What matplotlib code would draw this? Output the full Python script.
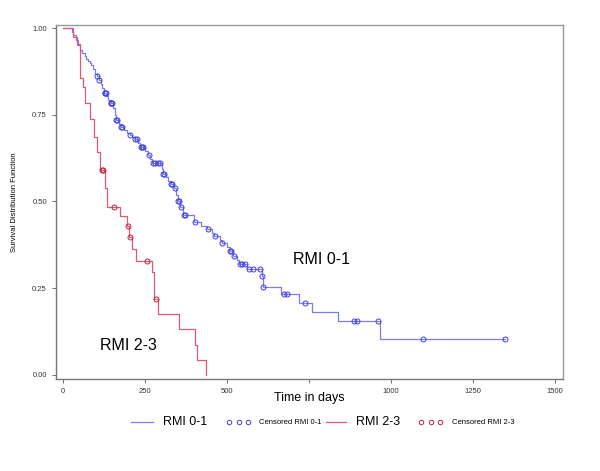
import numpy as np
import matplotlib.pyplot as plt
from matplotlib.lines import Line2D

plt.rcParams['font.family'] = ['Liberation Sans', 'DejaVu Sans']

# RMI 0-1 : event times (days) and survival after each step
t01 = [27, 32, 40, 47, 52, 57, 67, 72, 77, 82, 87, 92, 98, 103, 109, 115, 120, 126,
       133, 139, 146, 152, 158, 163, 172, 178, 185, 196, 204, 212, 220, 228, 236, 250,
       258, 266, 272, 303, 306, 315, 322, 330, 338, 345, 350, 357, 366, 400, 420, 440,
       455, 462, 478, 484, 500, 510, 519, 530, 538, 562, 606, 611, 666, 720, 758, 840, 966]
s01 = [0.99, 0.98, 0.967, 0.955, 0.937, 0.927, 0.919, 0.912, 0.906, 0.899, 0.893, 0.881,
       0.869, 0.862, 0.85, 0.838, 0.826, 0.814, 0.803, 0.793, 0.784, 0.77, 0.75, 0.735,
       0.723, 0.716, 0.705, 0.697, 0.692, 0.685, 0.68, 0.668, 0.657, 0.645, 0.634, 0.622,
       0.612, 0.595, 0.579, 0.57, 0.56, 0.55, 0.539, 0.52, 0.5, 0.485, 0.461, 0.442, 0.43,
       0.42, 0.41, 0.399, 0.39, 0.379, 0.368, 0.357, 0.344, 0.33, 0.319, 0.305, 0.286,
       0.252, 0.233, 0.208, 0.182, 0.156, 0.104]
cens01 = [105, 111, 127, 129, 131, 146, 148, 150, 163, 166, 178, 181, 205, 221, 225, 239,
          242, 245, 262, 275, 282, 289, 296, 306, 309, 331, 334, 341, 352, 355, 360, 369,
          372, 402, 443, 463, 484, 511, 514, 521, 540, 547, 555, 568, 581, 600, 606, 611,
          674, 684, 738, 887, 897, 961, 1097, 1348]

# RMI 2-3
t23 = [31, 42, 52, 60, 67, 82, 95, 105, 113, 128, 135, 175, 196, 203, 211, 222, 273,
       277, 291, 355, 403, 409, 437]
s23 = [0.975, 0.951, 0.856, 0.83, 0.784, 0.738, 0.687, 0.643, 0.59, 0.539, 0.485, 0.457,
       0.429, 0.397, 0.362, 0.329, 0.296, 0.219, 0.175, 0.132, 0.087, 0.043, 0.0]
cens23 = [118, 123, 156, 199, 205, 257, 284]

xticks = [0, 250, 500, 750, 1000, 1250, 1500]
xticklabels = ['0', '250', '500', '', '1000', '1250', '1500']  # 750 hidden under the axis title
yticks = [0, 0.25, 0.5, 0.75, 1.0]
yticklabels = ['0.00', '0.25', '0.50', '0.75', '1.00']

blue_line = '#7b7bf2'
blue_mark = '#4040e0'
red_line = '#dc5a78'
red_mark = '#c8203c'


def surv_at(times, surv, t):
    s = 1.0
    for ti, si in zip(times, surv):
        if ti <= t:
            s = si
    return s


fig = plt.figure(figsize=(6, 4.71), dpi=100)
ax = fig.add_axes([0.0933, 0.1953, 0.8447, 0.7517])

# blue curve
x = [0] + t01 + [max(cens01)]
y = [1.0] + s01 + [s01[-1]]
ax.step(x, y, where='post', color=blue_line, lw=0.9)
ax.plot(cens01, [surv_at(t01, s01, c) for c in cens01], 'o', mfc='none',
        mec=blue_mark, ms=3.6, mew=0.7)

# red curve
x = [0] + t23
y = [1.0] + s23
ax.step(x, y, where='post', color=red_line, lw=0.9)
ax.plot(cens23, [surv_at(t23, s23, c) for c in cens23], 'o', mfc='none',
        mec=red_mark, ms=3.6, mew=0.7)

ax.text(789, 0.333, 'RMI 0-1', fontsize=11.5, ha='center', va='center')
ax.text(199, 0.086, 'RMI 2-3', fontsize=11.5, ha='center', va='center')

ax.set_xlim(-21, 1524)
ax.set_ylim(-0.012, 1.009)
ax.set_xticks(xticks)
ax.set_xticklabels(xticklabels)
ax.set_yticks(yticks)
ax.set_yticklabels(yticklabels)
ax.tick_params(labelsize=5.5, length=3, width=0.6, color='#555555', labelcolor='#333333')
for side in ['left', 'bottom']:
    ax.spines[side].set_color('#777777')
    ax.spines[side].set_linewidth(1.0)
for side in ['top', 'right']:
    ax.spines[side].set_color('#999999')
    ax.spines[side].set_linewidth(1.0)

ax.set_xlabel('Time in days', fontsize=9, labelpad=-2)
ax.set_ylabel('Survival Distribution Function', fontsize=5.5)
ax.yaxis.set_label_coords(-0.075, 0.5)

# legend row at bottom
ly = 1 - 422 / 471
fig.add_artist(Line2D([131 / 600, 153 / 600], [ly, ly], color=blue_line, lw=0.9))
fig.text(163 / 600, ly, 'RMI 0-1', fontsize=9, va='center')
fig.add_artist(Line2D([229 / 600, 238.5 / 600, 248 / 600], [ly] * 3, ls='none', marker='o',
                      mfc='none', mec=blue_mark, ms=3.2, mew=0.7))
fig.text(259 / 600, ly, 'Censored RMI 0-1', fontsize=5.5, va='center')
fig.add_artist(Line2D([326 / 600, 346 / 600], [ly, ly], color=red_line, lw=0.9))
fig.text(356 / 600, ly, 'RMI 2-3', fontsize=9, va='center')
fig.add_artist(Line2D([421 / 600, 430.5 / 600, 440 / 600], [ly] * 3, ls='none', marker='o',
                      mfc='none', mec=red_mark, ms=3.2, mew=0.7))
fig.text(452 / 600, ly, 'Censored RMI 2-3', fontsize=5.5, va='center')

fig.savefig('out.png', dpi=100)
